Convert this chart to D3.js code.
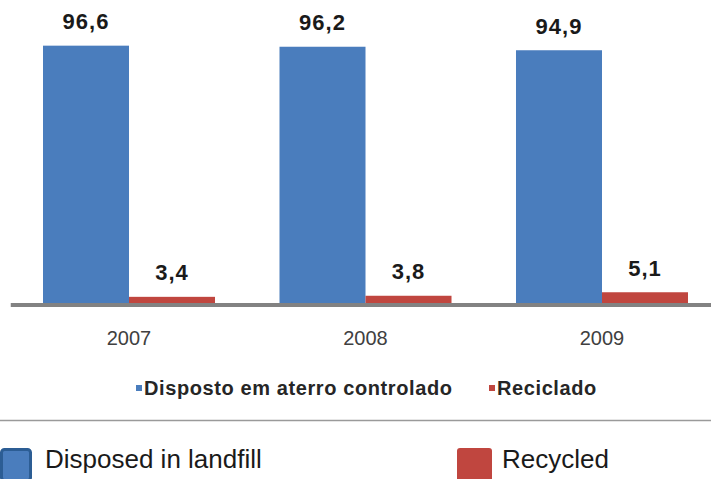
<!DOCTYPE html>
<html>
<head>
<meta charset="utf-8">
<script src="https://cdn.jsdelivr.net/npm/d3@7/dist/d3.min.js"></script>
<style>
  html, body { margin: 0; padding: 0; background: #ffffff; }
  svg { display: block; }
</style>
</head>
<body>
<svg id="chart" width="711" height="479"></svg>
<script>
// ---- data ----
const years = ["2007", "2008", "2009"];
const seriesKeys = ["disposed", "recycled"];
const seriesNamesPt = ["Disposto em aterro controlado", "Reciclado"];
const seriesNamesEn = ["Disposed in landfill", "Recycled"];
const disposedValues = [96.6, 96.2, 94.9];
const recycledValues = [3.4, 3.8, 5.1];
const seriesColors = ["#4a7dbd", "#c0463f"];

const rows = years.map((y, i) => ({ year: y, disposed: disposedValues[i], recycled: recycledValues[i] }));

const svg = d3.select("#chart");
const font = "'Liberation Sans', Arial, sans-serif";
const ptFormat = d3.formatLocale({ decimal: ",", thousands: ".", grouping: [3], currency: ["", ""] }).format(".1f");

// ---- scales ----
const x0 = d3.scaleBand().domain(years).range([10.75, 720.25]).paddingInner(0.2727).paddingOuter(0.13636);
const x1 = d3.scaleBand().domain(seriesKeys).range([0, x0.bandwidth()]).padding(0);
const y = d3.scaleLinear().domain([0, 100]).range([306, 36.5]);
const color = d3.scaleOrdinal().domain(seriesKeys).range(seriesColors);

// ---- bars ----
const groups = svg.append("g").selectAll("g").data(rows).join("g")
  .attr("transform", d => `translate(${x0(d.year)},0)`);

groups.selectAll("rect").data(d => seriesKeys.map(k => ({ key: k, value: d[k] }))).join("rect")
  .attr("x", d => x1(d.key))
  .attr("y", d => y(d.value))
  .attr("width", x1.bandwidth())
  .attr("height", d => y(0) - y(d.value))
  .attr("fill", d => color(d.key));

groups.selectAll("text.val").data(d => seriesKeys.map(k => ({ key: k, value: d[k] }))).join("text")
  .attr("class", "val")
  .attr("x", d => x1(d.key) + x1.bandwidth() / 2)
  .attr("y", d => y(d.value) - 16.5)
  .attr("text-anchor", "middle")
  .attr("font-family", font)
  .attr("font-weight", "bold")
  .attr("font-size", 22)
  .attr("letter-spacing", 1)
  .attr("fill", "#1a1a1a")
  .text(d => ptFormat(d.value));

// ---- axis ----
const xAxis = d3.axisBottom(x0).tickSize(0).tickPadding(0);
const axisG = svg.append("g").attr("transform", `translate(0,${y(0) - 1})`).call(xAxis);
axisG.select(".domain").remove();
axisG.selectAll("text")
  .attr("dy", null)
  .attr("y", 40)
  .attr("font-family", font)
  .attr("font-size", 20)
  .attr("fill", "#404040");
svg.append("line")
  .attr("x1", x0.range()[0]).attr("x2", 711)
  .attr("y1", y(0) - 1).attr("y2", y(0) - 1)
  .attr("stroke", "#828282").attr("stroke-width", 4);

// ---- inner legend (Portuguese) ----
const legPt = svg.append("g").attr("font-family", font).attr("font-weight", "bold")
  .attr("font-size", 20).attr("letter-spacing", 0.6).attr("fill", "#262626");
const legPtX = [136, 489];
seriesKeys.forEach((k, i) => {
  legPt.append("rect").attr("x", legPtX[i]).attr("y", 385).attr("width", 6).attr("height", 6).attr("fill", color(k));
  legPt.append("text").attr("x", legPtX[i] + 8).attr("y", 395).text(seriesNamesPt[i]);
});

// ---- separator ----
svg.append("line").attr("x1", 0).attr("x2", 711).attr("y1", 420.5).attr("y2", 420.5)
  .attr("stroke", "#9a9a9a").attr("stroke-width", 1.5);

// ---- outer legend (English) ----
const legEn = svg.append("g").attr("font-family", font).attr("font-size", 26).attr("fill", "#1a1a1a");
legEn.append("rect").attr("x", 1.5).attr("y", 449.5).attr("width", 29).attr("height", 31).attr("rx", 3)
  .attr("fill", color("disposed")).attr("stroke", "#2c5d94").attr("stroke-width", 3);
legEn.append("text").attr("x", 45).attr("y", 468).text(seriesNamesEn[0]);
legEn.append("rect").attr("x", 457).attr("y", 448).attr("width", 35).attr("height", 33).attr("rx", 3)
  .attr("fill", color("recycled"));
legEn.append("text").attr("x", 502).attr("y", 468).text(seriesNamesEn[1]);
</script>
</body>
</html>
